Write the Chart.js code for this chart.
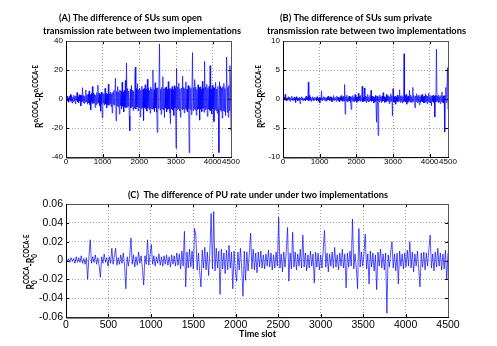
<!DOCTYPE html>
<html><head><meta charset="utf-8">
<script src="https://cdn.jsdelivr.net/npm/chart.js@4/dist/chart.umd.min.js"></script>
<style>
html,body{margin:0;padding:0;background:#fff;}
#wrap{position:relative;width:497px;height:346px;overflow:hidden;background:#fff;}
canvas{position:absolute;left:0;top:0;}
</style></head><body>
<div id="wrap">
<canvas id="cA" width="497" height="346"></canvas>
<canvas id="cB" width="497" height="346"></canvas>
<canvas id="cC" width="497" height="346"></canvas>
</div>
<script>
const slotStep = 15;

const diffOpenRate = [
 1.2,-0.8,2.0,-1.5,0.6,-2.2,1.8,-0.9,3.1,-1.6,2.4,-2.8,1.1,-1.9,2.6,-1.2,1.9,-3.4,2.2,-1.0,
 4.5,-2.1,1.6,-2.6,3.0,-1.4,2.8,-4.8,2.2,-1.7,7.8,-2.4,2.5,-3.0,1.9,-2.2,6.2,-1.8,2.7,-3.6,
 3.4,-2.6,5.6,-3.8,2.9,-7.5,3.8,-2.4,8.6,-3.2,4.1,-2.7,3.3,-5.8,2.6,-3.9,4.4,-3.0,9.6,-2.8,
 3.9,-4.6,3.1,-8.4,4.7,-3.3,-13.0,4.2,-2.9,3.6,-4.2,7.4,-3.5,4.0,-6.1,3.2,-3.8,10.2,-4.4,3.5,
 -3.1,4.8,-5.2,3.7,-9.6,4.5,-3.6,5.9,-4.3,4.6,14.5,-15.0,5.2,-4.8,8.6,-5.5,4.9,-10.4,6.3,-4.6,
 5.4,-6.8,11.6,-5.0,4.8,-8.9,6.0,-5.3,12.8,-6.1,24.8,-5.6,7.2,-4.9,5.5,-11.8,-22.0,6.8,-6.2,9.4,
 -5.4,6.1,-7.8,5.3,-6.4,14.2,22.0,-6.9,7.1,-5.5,10.6,-8.2,6.4,-5.8,7.6,-12.4,6.2,-6.7,8.9,-5.9,
 6.6,-14.8,7.3,-6.0,9.8,-6.6,6.9,-8.4,13.6,-6.3,7.4,-7.0,6.1,-9.8,8.2,-6.5,7.0,-6.8,20.0,-7.2,
 6.4,-8.6,11.2,-6.1,7.5,-9.2,-23.0,7.8,-6.4,8.8,38.0,-7.4,6.6,-10.6,8.1,-6.8,15.4,-7.6,6.9,-12.8,
 7.7,-6.3,8.4,-8.9,6.8,-7.1,12.0,-6.6,7.3,-9.5,-17.0,7.0,-6.9,8.6,-7.7,6.5,-11.4,9.2,-6.2,7.9,
 -34.0,21.0,-7.3,8.3,-6.7,10.9,-8.0,7.1,-12.6,6.8,7.6,-7.4,15.8,-6.9,8.0,-9.6,7.2,-6.6,11.8,-7.8,
 6.9,-8.8,9.4,-6.5,-37.0,8.5,-7.2,7.4,-10.8,6.7,32.0,-8.1,7.8,-6.9,13.4,-7.6,8.2,-11.2,6.6,-7.4,
 9.8,-6.8,7.9,-14.6,8.4,-7.0,6.9,-8.7,12.2,-6.4,7.6,-9.1,26.0,-7.5,8.3,-6.7,10.1,-12.0,7.4,-6.9,
 8.8,-7.7,23.0,-8.2,7.0,-10.4,9.6,-6.8,8.1,-15.6,7.5,-7.3,11.4,-8.0,6.9,-9.8,8.6,-7.1,-37.0,12.0,
 -7.6,9.0,-8.4,7.7,-13.2,8.5,-7.9,10.8,-8.6,7.3,-11.5,8.9,29.0,-9.2,8.0,-12.6,9.4,-8.1,23.0,10.5,-22.0
];

const diffPrivateRate = [
 0.2,-0.1,0.3,-0.2,0.8,-0.2,0.1,-0.3,0.2,-0.1,0.4,-0.2,0.3,-0.4,0.2,-0.1,0.5,-0.2,0.1,-0.3,
 0.3,-0.2,0.2,-0.6,0.4,-0.1,0.2,-0.3,0.1,-0.2,0.3,-0.8,0.2,-0.1,0.4,-0.2,0.2,-0.3,0.1,-0.2,
 0.2,-0.3,0.5,-0.1,0.3,-0.2,2.9,-0.3,0.6,-0.2,0.3,-0.4,0.2,-0.1,0.4,-0.3,0.2,-0.2,0.3,-0.1,
 0.2,-0.3,0.4,-0.2,0.1,-0.4,0.3,-0.7,0.2,-0.2,1.4,-0.3,0.2,-0.1,0.4,-0.2,0.3,-0.3,0.2,-0.4,
 0.3,-0.2,0.5,-0.1,0.2,-0.3,0.4,-0.2,0.3,-0.5,0.2,-0.2,0.6,-0.3,0.2,-0.1,0.3,-0.4,0.5,-0.2,
 0.3,-0.3,0.2,-0.5,0.4,-0.2,0.6,-0.3,0.3,-0.4,0.5,-0.3,2.5,-2.6,0.4,-0.3,0.7,-0.5,0.3,-0.4,
 0.5,-0.3,0.4,-0.6,-1.8,0.4,-0.3,0.6,-0.4,0.3,-0.5,0.8,-0.3,0.4,-0.6,0.3,-0.4,1.0,-0.3,0.5,
 -0.4,0.6,-0.3,0.4,2.2,-0.5,0.3,-0.4,1.9,-0.3,0.5,-0.6,0.4,-0.3,0.8,-0.5,0.3,-0.4,0.6,-0.3,
 1.5,-0.4,0.5,-0.3,0.4,-0.7,0.3,-0.5,0.6,-0.4,-4.0,0.5,-0.3,-6.3,0.4,-0.5,0.7,-0.3,0.4,-0.6,
 0.5,-0.4,1.1,-0.3,0.4,-0.6,0.3,-0.5,0.8,-0.4,0.5,-0.3,0.6,-0.8,0.4,-0.5,0.9,-0.3,0.5,-2.9,
 1.8,-0.5,0.4,-0.6,0.5,-0.9,0.3,-0.4,0.7,-0.5,0.4,-0.3,1.6,-0.6,0.5,-0.4,0.6,-0.7,0.4,-0.5,
 7.8,-0.4,0.6,-0.5,0.8,-0.9,0.4,-0.6,0.5,-0.4,1.5,-0.5,0.7,-0.6,0.4,-0.5,2.0,-0.4,0.6,-0.8,
 -1.5,0.5,-0.4,0.9,-0.6,0.5,-0.5,0.7,-1.0,0.4,-0.6,0.6,-0.4,0.8,-0.5,0.4,-0.7,0.5,-0.6,0.9,
 -0.4,0.6,-0.8,0.5,-0.5,1.0,-0.6,0.4,-0.7,0.6,-1.2,0.5,-0.4,0.7,-0.6,0.5,-3.1,0.6,-0.5,8.6,
 -0.4,0.5,-0.6,0.7,-0.5,0.4,-0.8,0.6,-0.4,1.2,-0.6,0.5,-0.7,0.6,-5.7,0.5,2.0,-0.6,0.8,5.4,-1.8
];

const diffPURate = [
 0.002,-0.001,0.002,-0.002,0.003,-0.001,0.002,-0.003,0.004,-0.002,0.003,-0.002,0.005,-0.003,0.002,-0.004,0.003,-0.020,0.004,0.022,
 -0.003,0.004,-0.002,0.006,-0.004,0.003,-0.005,-0.018,0.004,-0.003,0.007,-0.002,0.003,-0.006,0.004,-0.003,0.013,-0.004,0.005,0.013,
 -0.005,0.003,-0.004,0.006,-0.003,0.008,-0.005,-0.030,0.004,-0.006,0.005,0.024,-0.004,0.006,-0.007,0.004,-0.005,0.009,-0.003,0.005,
 -0.008,-0.026,0.005,-0.004,0.022,-0.005,0.006,0.017,-0.004,0.005,-0.006,0.004,-0.003,0.007,-0.005,0.004,-0.006,0.005,-0.004,0.006,
 -0.005,0.004,-0.007,0.006,-0.004,0.005,-0.006,0.008,-0.005,0.007,-0.009,0.010,-0.006,0.031,-0.028,0.009,-0.008,0.012,-0.007,0.010,
 -0.009,0.034,0.026,-0.010,0.008,-0.012,-0.028,0.011,-0.008,0.014,-0.010,0.009,-0.016,0.010,0.050,-0.009,0.052,-0.011,0.013,-0.008,
 0.010,-0.036,0.012,-0.009,0.008,-0.014,0.011,-0.010,0.016,-0.008,0.009,-0.030,0.010,-0.012,-0.022,0.009,-0.010,0.013,-0.008,-0.038,
 0.010,-0.021,0.009,-0.011,0.008,0.029,-0.009,0.012,-0.010,0.008,-0.013,0.009,-0.007,0.010,-0.008,0.006,-0.009,0.007,-0.006,0.011,
 -0.007,0.008,-0.010,0.006,-0.008,0.009,-0.006,0.046,-0.008,0.007,-0.012,0.009,-0.007,0.010,0.035,-0.022,0.008,-0.009,0.030,-0.007,
 0.009,-0.010,0.007,-0.006,0.012,-0.008,0.027,-0.007,0.008,-0.011,0.006,-0.008,0.010,-0.006,0.007,-0.024,0.009,-0.007,0.008,-0.010,
 0.006,-0.008,0.011,0.032,-0.007,0.008,-0.012,0.007,-0.006,0.009,-0.008,0.014,-0.007,0.006,-0.010,0.008,-0.006,0.012,-0.008,0.007,
 -0.029,0.008,-0.007,0.010,-0.006,0.044,-0.009,0.007,-0.008,-0.030,0.034,-0.007,0.009,-0.006,0.008,0.028,-0.009,0.007,-0.025,0.010,
 -0.007,0.008,-0.011,0.006,-0.031,0.009,-0.006,0.012,-0.008,0.007,-0.010,0.008,-0.056,0.006,-0.007,0.009,0.020,-0.008,0.007,-0.011,
 0.008,-0.025,0.010,-0.006,0.007,-0.009,0.008,-0.007,0.011,-0.006,0.020,-0.008,0.009,-0.012,0.007,-0.006,0.010,-0.009,-0.028,0.008,
 -0.007,0.009,-0.010,0.008,-0.006,0.012,0.027,-0.008,0.007,-0.011,0.009,-0.007,0.013,-0.006,0.008,-0.010,0.007,-0.009,0.011,-0.020,0.008
];

// ---- ticks ----
const xTicksAB = [0,1000,2000,3000,4000,4500];
const xLabelsAB = ['0','1000','2000','3000','4000','4500'];
const xTicksC = [0,500,1000,1500,2000,2500,3000,3500,4000,4500];
const xLabelsC = ['0','500','1000','1500','2000','2500','3000','3500','4000','4500'];
const yTicksA = [-40,-20,0,20,40];
const yLabelsA = ['-40','-20','0','20','40'];
const yTicksB = [-10,-5,0,5,10];
const yLabelsB = ['-10','-5','0','5','10'];
const yTicksC = [-0.06,-0.04,-0.02,0,0.02,0.04,0.06];
const yLabelsC = ['-0.06','-0.04','-0.02','0','0.02','0.04','0.06'];

// ---- texts ----
const titleA = ['(A) The difference of SUs sum open','transmission rate between two implementations'];
const titleB = ['(B) The difference of SUs sum private','transmission rate between two implementations'];
const titleC = ['(C)  The difference of PU rate under under two implementations'];
const xLabelC = 'Time slot';
const yLabelA = [['R','n'],['o,COCA','sup'],['-R','n'],['o,COCA-E','sup']];
const yLabelB = [['R','n'],['p,COCA','sup'],['-R','n'],['p,COCA-E','sup']];
const yLabelC = [['R','n'],['COCA','ss','0'],['-R','n'],['COCA-E','ss','0']];

const TXT = 'Lato, "Open Sans", sans-serif';

function fitText(ctx, text, cx, cy, size, width){
  ctx.save();
  ctx.font = 'bold ' + size + 'px ' + TXT;
  const w = ctx.measureText(text).width;
  ctx.translate(cx, cy);
  ctx.scale(width / w, 1);
  ctx.textAlign = 'center';
  ctx.textBaseline = 'middle';
  ctx.fillStyle = '#000';
  ctx.fillText(text, 0, 0);
  ctx.restore();
}

function richLabel(ctx, parts, bx, cy, size, len){
  const small = size * 0.72;
  ctx.save();
  const widths = parts.map(p => {
    if (p[1] === 'n') { ctx.font = 'bold ' + size + 'px ' + TXT; return ctx.measureText(p[0]).width; }
    ctx.font = 'bold ' + small + 'px ' + TXT;
    let w = ctx.measureText(p[0]).width;
    if (p[2]) w = Math.max(w, ctx.measureText(p[2]).width);
    return w;
  });
  const total = widths.reduce((a,b)=>a+b,0);
  ctx.translate(bx, cy);
  ctx.rotate(-Math.PI/2);
  ctx.scale(len/total, 1);
  ctx.fillStyle = '#000';
  ctx.textBaseline = 'alphabetic';
  ctx.textAlign = 'left';
  let x = -total/2;
  parts.forEach((p,i) => {
    if (p[1] === 'n') { ctx.font = 'bold ' + size + 'px ' + TXT; ctx.fillText(p[0], x, 0); }
    else {
      ctx.font = 'bold ' + small + 'px ' + TXT;
      ctx.fillText(p[0], x, -size*0.42);
      if (p[2]) ctx.fillText(p[2], x, size*0.32);
    }
    x += widths[i];
  });
  ctx.restore();
}

function decoPlugin(spec){
  return {
    id: 'deco' + spec.id,
    afterDraw(chart){
      const ctx = chart.ctx, a = chart.chartArea;
      const xs = chart.scales.x, ys = chart.scales.y;
      ctx.save();
      ctx.strokeStyle = '#000'; ctx.lineWidth = 1;
      ctx.beginPath();
      spec.xt.forEach(v => { const px = Math.round(xs.getPixelForValue(v)) + 0.5;
        ctx.moveTo(px, a.bottom); ctx.lineTo(px, a.bottom - 3);
        ctx.moveTo(px, a.top); ctx.lineTo(px, a.top + 3); });
      spec.yt.forEach(v => { const py = Math.round(ys.getPixelForValue(v)) + 0.5;
        ctx.moveTo(a.left, py); ctx.lineTo(a.left + 3, py);
        ctx.moveTo(a.right, py); ctx.lineTo(a.right - 3, py); });
      ctx.stroke();
      ctx.strokeStyle = '#555';
      ctx.strokeRect(Math.round(a.left)+0.5, Math.round(a.top)+0.5, Math.round(a.right-a.left), Math.round(a.bottom-a.top));
      ctx.strokeStyle = '#000';
      ctx.beginPath();
      ctx.moveTo(Math.round(a.left)+0.5, Math.round(a.top)); ctx.lineTo(Math.round(a.left)+0.5, Math.round(a.bottom)+1);
      ctx.lineTo(Math.round(a.right)+1, Math.round(a.bottom)+0.5);
      ctx.stroke();
      ctx.restore();
      spec.titles.forEach(t => fitText(ctx, t.text, t.cx, t.cy, 10, t.w));
      if (spec.xlab) fitText(ctx, spec.xlab.text, spec.xlab.cx, spec.xlab.cy, 10, spec.xlab.w);
      richLabel(ctx, spec.ylab.parts, spec.ylab.bx, spec.ylab.cy, 10.5, spec.ylab.len);
    }
  };
}

function makeChart(spec){
  const pts = spec.values.map((v,i) => ({x: i*slotStep, y: v}));
  const tickFont = {family: '"Liberation Sans", Arial, sans-serif', size: spec.tickSize};
  return new Chart(document.getElementById(spec.id), {
    type: 'line',
    data: {datasets: [{data: pts, borderColor: 'rgba(0,0,255,0.85)', borderWidth: 0.8,
      pointRadius: 0, tension: 0, fill: false}]},
    options: {
      responsive: false, animation: false, events: [],
      layout: {padding: {left: 0, top: spec.area.t, right: 497 - spec.area.r, bottom: 346 - spec.area.b - spec.xh}},
      plugins: {legend: {display: false}, title: {display: false}, tooltip: {enabled: false}},
      scales: {
        x: {type: 'linear', min: 0, max: 4500,
          afterFit: s => { s.height = spec.xh; },
          afterBuildTicks: s => { s.ticks = spec.xt.map(v => ({value: v})); },
          ticks: {autoSkip: false, maxRotation: 0, padding: spec.xpad, font: tickFont, color: '#000',
            callback: (v, i) => spec.xl[i]},
          grid: {color: '#a0a0a0', lineWidth: 1, drawTicks: false},
          border: {display: false, dash: [1,2]}},
        y: {type: 'linear', min: spec.yt[0], max: spec.yt[spec.yt.length-1],
          afterFit: s => { s.width = spec.area.l; },
          afterBuildTicks: s => { s.ticks = spec.yt.map(v => ({value: v})); },
          ticks: {autoSkip: false, padding: 3, font: tickFont, color: '#000',
            callback: (v, i) => spec.yl[i]},
          grid: {color: '#a0a0a0', lineWidth: 1, drawTicks: false},
          border: {display: false, dash: [1,2]}}
      }
    },
    plugins: [decoPlugin(spec)]
  });
}

makeChart({id: 'cA', values: diffOpenRate, area: {l: 66, r: 231, t: 41, b: 157}, xh: 20, xpad: 0,
  tickSize: 8, xt: xTicksAB, xl: xLabelsAB, yt: yTicksA, yl: yLabelsA,
  titles: [{text: titleA[0], cx: 130.5, cy: 17.5, w: 143}, {text: titleA[1], cx: 142, cy: 31, w: 198}],
  ylab: {parts: yLabelA, bx: 42.5, cy: 96.5, len: 63}});

makeChart({id: 'cB', values: diffPrivateRate, area: {l: 283, r: 448, t: 41, b: 157}, xh: 20, xpad: 0,
  tickSize: 8, xt: xTicksAB, xl: xLabelsAB, yt: yTicksB, yl: yLabelsB,
  titles: [{text: titleB[0], cx: 356, cy: 17.5, w: 152}, {text: titleB[1], cx: 366.5, cy: 31, w: 199}],
  ylab: {parts: yLabelB, bx: 265, cy: 96.5, len: 63}});

makeChart({id: 'cC', values: diffPURate, area: {l: 66, r: 448, t: 204, b: 317}, xh: 20, xpad: 2,
  tickSize: 10.5, xt: xTicksC, xl: xLabelsC, yt: yTicksC, yl: yLabelsC,
  titles: [{text: titleC[0], cx: 258, cy: 195, w: 260}],
  xlab: {text: xLabelC, cx: 257.5, cy: 334, w: 37},
  ylab: {parts: yLabelC, bx: 33.5, cy: 262, len: 55}});
</script>
</body></html>
